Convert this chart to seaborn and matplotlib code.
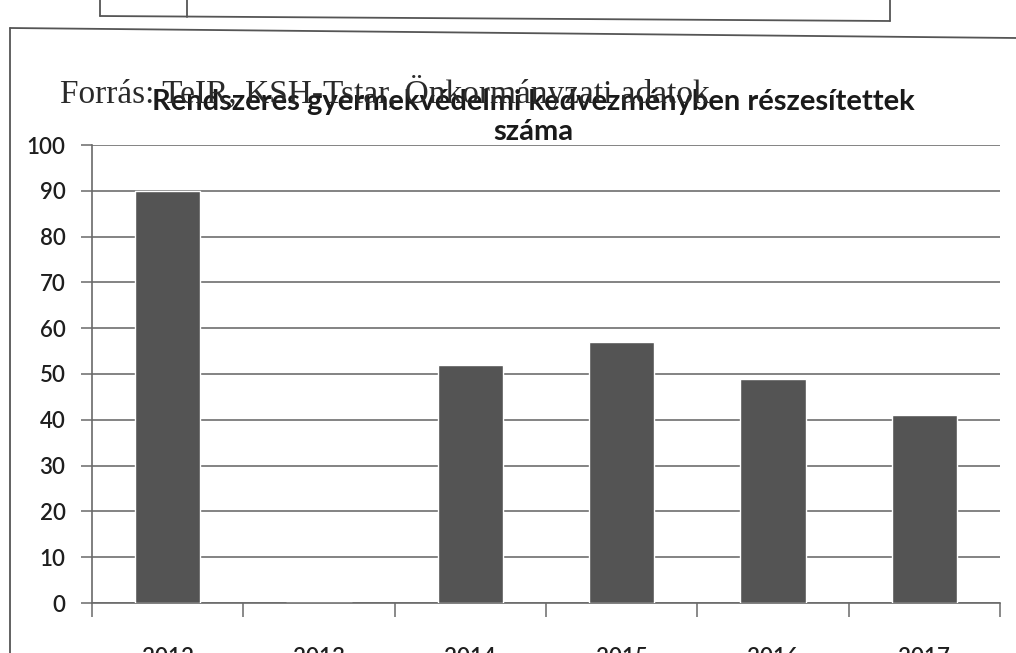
import matplotlib
matplotlib.use("Agg")
import matplotlib.pyplot as plt
from matplotlib.lines import Line2D
from matplotlib.ticker import FixedLocator
import seaborn as sns
import pandas as pd

years = ["2012", "2013", "2014", "2015", "2016", "2017"]
recipients = [90, 0, 52, 57, 49, 41]
y_ticks = [0, 10, 20, 30, 40, 50, 60, 70, 80, 90, 100]

title = "Rendszeres gyermekvédelmi kedvezményben részesítettek\nszáma"
source = "Forrás: TeIR, KSH-Tstar, Önkormányzati adatok"

sns.set_theme(style="white")
plt.rcParams["font.family"] = ["Lato", "DejaVu Sans"]

df = pd.DataFrame({"ev": years, "fo": recipients})

fig = plt.figure(figsize=(10.16, 6.53), dpi=100)
ax = fig.add_axes([92 / 1016, 1 - 603 / 653, (1000 - 92) / 1016, (603 - 145) / 653])

sns.barplot(data=df, x="ev", y="fo", color="#545454", width=0.43,
            saturation=1, ax=ax, zorder=3)

ax.set_ylim(0, 100)
ax.set_xlim(-0.5, len(years) - 0.5)
ax.set_yticks(y_ticks)
ax.yaxis.grid(True, color="#7a7a7a", linewidth=1.3, zorder=0)
ax.set_axisbelow(True)
ax.set_xlabel("")
ax.set_ylabel("")

for side in ("top", "right"):
    ax.spines[side].set_visible(False)
for side in ("left", "bottom"):
    ax.spines[side].set_color("#6a6a6a")
    ax.spines[side].set_linewidth(1.2)

ax.tick_params(axis="y", direction="out", length=8, width=1.1, color="#6a6a6a",
               pad=11, labelsize=16, labelcolor="#1e1e1e", left=True)
ax.tick_params(axis="x", which="major", length=0, pad=32, labelsize=16,
               labelcolor="#1e1e1e")
ax.xaxis.set_minor_locator(FixedLocator([i + 0.5 for i in range(-1, len(years))]))
ax.tick_params(axis="x", which="minor", direction="out", length=10, width=1.1,
               color="#6a6a6a", bottom=True)
for lbl in ax.get_yticklabels() + ax.get_xticklabels():
    lbl.set_fontweight("semibold")

# chart title and the overprinted source line
fig.text(533 / 1016, 1 - 117 / 653, title, ha="center", va="center",
         fontsize=21, fontweight="bold", color="#1a1a1a", linespacing=1.2,
         family=["Lato", "DejaVu Sans"])
fig.text(60 / 1016, 1 - 92 / 653, source, ha="left", va="center",
         fontsize=24, color="#2a2a2a", family=["Liberation Serif", "DejaVu Serif"])

# page frame and the table edge above the chart
frame = dict(color="#555555", linewidth=1.3, transform=fig.transFigure)
H, W = 653, 1016
fig.add_artist(Line2D([10 / W, 1.0], [1 - 28 / H, 1 - 38 / H], **frame))
fig.add_artist(Line2D([10 / W, 10 / W], [1 - 28 / H, 0], **frame))
fig.add_artist(Line2D([100 / W, 890 / W], [1 - 16 / H, 1 - 21 / H], **frame))
fig.add_artist(Line2D([100 / W, 100 / W], [1.0, 1 - 16 / H], **frame))
fig.add_artist(Line2D([187 / W, 187 / W], [1.0, 1 - 17 / H], **frame))
fig.add_artist(Line2D([890 / W, 890 / W], [1.0, 1 - 21 / H], **frame))

fig.savefig("out.png", dpi=100)
